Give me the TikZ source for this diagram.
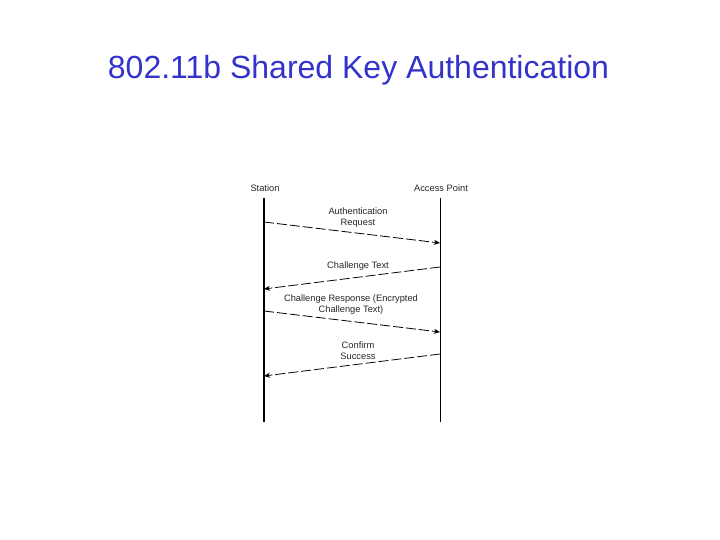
\documentclass[tikz,border=0pt]{standalone}
\usepackage{fontspec}
\setmainfont{Liberation Sans}
\usetikzlibrary{arrows.meta}
\definecolor{titleblue}{RGB}{51,51,204}
\begin{document}
\begin{tikzpicture}[x=1pt,y=-1pt,
  lbl/.style={inner sep=0pt,align=center,font=\fontsize{9.3}{11}\selectfont,text=black!85},
  msg/.style={line width=0.8pt,dash pattern=on 10pt off 3pt,-{Stealth[length=6pt,width=5pt]}},
  life/.style={draw=black}]
\useasboundingbox (0,0) rectangle (720,540);
\node[anchor=base,inner sep=0pt,font=\fontsize{32}{36}\selectfont,text=titleblue] (title) at (358.5,79) {802.11b Shared Key Authentication};
\node[lbl] (st) at (265,188) {Station};
\node[lbl] (ap) at (441,188) {Access Point};
\coordinate (sttop) at (264,198);
\coordinate (stbot) at (264,422);
\coordinate (aptop) at (440,198);
\coordinate (apbot) at (440,422);
\draw[life,line width=2pt] (sttop) -- (stbot);
\draw[life,line width=0.8pt] (aptop) -- (apbot);
% messages
\coordinate (m1s) at (264,222); \coordinate (m1e) at (440,243);
\coordinate (m2s) at (440,267); \coordinate (m2e) at (264,289);
\coordinate (m3s) at (264,311); \coordinate (m3e) at (440,332);
\coordinate (m4s) at (440,354); \coordinate (m4e) at (264,376);
\draw[msg] (m1s) -- (m1e);
\draw[msg] (m2s) -- (m2e);
\draw[msg] (m3s) -- (m3e);
\draw[msg] (m4s) -- (m4e);
\node[lbl] (l1) at (358,217.5) {Authentication\\Request};
\node[lbl] (l2) at (358,266) {Challenge Text};
\node[lbl] (l3) at (351,304.5) {Challenge Response (Encrypted\\Challenge Text)};
\node[lbl] (l4) at (358,350.5) {Confirm\\Success};
\end{tikzpicture}
\end{document}
